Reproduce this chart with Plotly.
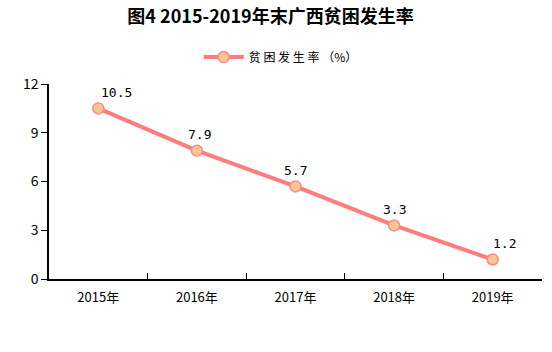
import plotly.graph_objects as go

years = ["2015年", "2016年", "2017年", "2018年", "2019年"]
rates = [10.5, 7.9, 5.7, 3.3, 1.2]
label_xshift = [18, 3, 0, 0, 12]

fig = go.Figure()
fig.add_trace(go.Scatter(
    x=years, y=rates, mode="lines+markers", name="贫 困 发 生 率 （%）",
    line=dict(color="#FF7C7C", width=4),
    marker=dict(size=11, color="#FFC592", line=dict(color="#FF8A80", width=1.5)),
))
for x, y, dx in zip(years, rates, label_xshift):
    fig.add_annotation(x=x, y=y, text=str(y), showarrow=False, yshift=16, xshift=dx,
                       font=dict(size=13, color="#000", family="DejaVu Sans Mono"))

fig.update_layout(
    width=552, height=352,
    margin=dict(l=49, r=10, t=84, b=73),
    paper_bgcolor="white", plot_bgcolor="white",
    font=dict(family="Noto Sans CJK SC", size=13, color="#000"),
    title=dict(text="<b>图4 2015-2019年末广西贫困发生率</b>", x=0.49, xanchor="center",
               y=1 - 17 / 352, yanchor="middle", font=dict(size=18, family="Noto Sans CJK SC")),
    showlegend=True,
    legend=dict(orientation="h", x=0.47, xanchor="center", y=1 + 27 / 195, yanchor="middle",
                font=dict(size=12), itemwidth=40),
    xaxis=dict(type="category", showline=True, linecolor="#000", linewidth=1.5,
               ticks="inside", tickson="boundaries", ticklen=6, tickcolor="#000",
               showgrid=False, range=[-0.5, 4.5], tickfont=dict(size=13),
               ticklabelstandoff=6),
    yaxis=dict(range=[0, 12], dtick=3, showline=True, linecolor="#000", linewidth=1.5,
               ticks="outside", ticklen=6, tickcolor="#000", showgrid=False, zeroline=False,
               tickfont=dict(size=14)),
)
fig.write_html("out.html")
